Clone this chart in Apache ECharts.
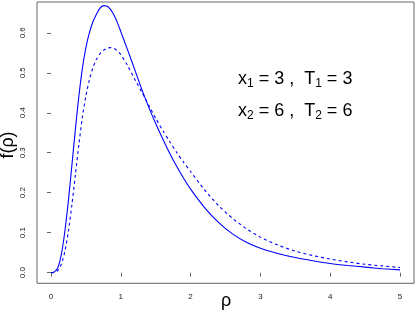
<!DOCTYPE html>
<html>
<head>
<meta charset="utf-8">
<script src="https://cdn.jsdelivr.net/npm/echarts@6/dist/echarts.min.js"></script>
<style>html,body{margin:0;padding:0;background:#fff}#c{width:415px;height:312px}</style>
</head>
<body>
<div id="c"></div>
<script>
var rho = [0, 0.05, 0.1, 0.15, 0.2, 0.25, 0.3, 0.35, 0.4, 0.45, 0.5, 0.55, 0.6, 0.65, 0.7, 0.75, 0.8, 0.85, 0.9, 0.95, 1.0, 1.1, 1.2, 1.3, 1.4, 1.5, 1.6, 1.7, 1.8, 1.9, 2.0, 2.2, 2.4, 2.6, 2.8, 3.0, 3.25, 3.5, 3.75, 4.0, 4.25, 4.5, 4.75, 5.0];
var fSolid = [0, 0.002, 0.013, 0.047, 0.105, 0.181, 0.269, 0.359, 0.442, 0.511, 0.563, 0.600, 0.627, 0.646, 0.661, 0.668, 0.667, 0.659, 0.645, 0.626, 0.603, 0.556, 0.508, 0.459, 0.414, 0.373, 0.335, 0.299, 0.266, 0.236, 0.209, 0.163, 0.126, 0.097, 0.076, 0.061, 0.048, 0.038, 0.030, 0.023, 0.018, 0.014, 0.010, 0.007];
var fDashed = [0, 0.001, 0.006, 0.022, 0.054, 0.104, 0.170, 0.245, 0.321, 0.389, 0.442, 0.482, 0.512, 0.533, 0.547, 0.556, 0.561, 0.563, 0.561, 0.555, 0.546, 0.517, 0.484, 0.452, 0.419, 0.386, 0.356, 0.328, 0.301, 0.276, 0.253, 0.207, 0.168, 0.136, 0.110, 0.089, 0.069, 0.054, 0.043, 0.034, 0.027, 0.021, 0.017, 0.013];
var xTicks = [0, 1, 2, 3, 4, 5];
var yTicks = [0, 0.1, 0.2, 0.3, 0.4, 0.5, 0.6];

function pairs(xs, ys) { return xs.map(function (x, i) { return [x, ys[i]]; }); }

var chart = echarts.init(document.getElementById('c'), null, { renderer: 'canvas' });
var FONT = 'Liberation Sans, Arial, Helvetica, sans-serif';
var rich = {
  a: { fontSize: 18, fontFamily: FONT, color: '#000', lineHeight: 22 },
  s: { fontSize: 12, fontFamily: FONT, color: '#000', lineHeight: 12, verticalAlign: 'bottom' }
};
chart.setOption({
  animation: false,
  backgroundColor: '#fff',
  grid: { left: 37, top: 2, width: 377, height: 281.3, show: true, borderColor: '#666', borderWidth: 1, backgroundColor: 'transparent', containLabel: false, outerBoundsMode: 'none' },
  xAxis: {
    type: 'value', min: -0.2, max: 5.2,
    axisLine: { show: false },
    splitLine: { show: false },
    axisTick: { show: true, length: 4, lineStyle: { color: '#666' }, customValues: xTicks },
    axisLabel: { show: true, margin: 9, fontSize: 8, color: '#222', fontFamily: FONT, customValues: xTicks, formatter: function (v) { return String(v); } }
  },
  yAxis: {
    type: 'value', min: -0.0265, max: 0.677,
    axisLine: { show: false },
    splitLine: { show: false },
    axisTick: { show: true, length: 4, lineStyle: { color: '#666' }, customValues: yTicks },
    axisLabel: { show: true, margin: 10, rotate: 90, fontSize: 8, color: '#222', fontFamily: FONT, customValues: yTicks, formatter: function (v) { return v.toFixed(1); } }
  },
  series: [
    { type: 'line', data: pairs(rho, fSolid), showSymbol: false, smooth: 0.25, lineStyle: { color: '#0000ff', width: 1.1 }, z: 3 },
    { type: 'line', data: pairs(rho, fDashed), showSymbol: false, smooth: 0.25, lineStyle: { color: '#0000ff', width: 1.1, type: [3, 3] }, z: 3 }
  ],
  graphic: [
    { type: 'text', x: 8, y: 145, rotation: Math.PI / 2, style: { text: 'f(ρ)', fontSize: 18, fontFamily: FONT, fill: '#000', align: 'center', verticalAlign: 'middle' } },
    { type: 'text', x: 226, y: 301, style: { text: 'ρ', fontSize: 18, fontFamily: FONT, fill: '#000', align: 'center', verticalAlign: 'middle' } },
    { type: 'text', x: 238, y: 79, style: { text: '{a|x}{s|1}{a| = 3 ,  T}{s|1}{a| = 3}', rich: rich, align: 'left', verticalAlign: 'middle' } },
    { type: 'text', x: 238, y: 111, style: { text: '{a|x}{s|2}{a| = 6 ,  T}{s|2}{a| = 6}', rich: rich, align: 'left', verticalAlign: 'middle' } }
  ]
});
</script>
</body>
</html>
